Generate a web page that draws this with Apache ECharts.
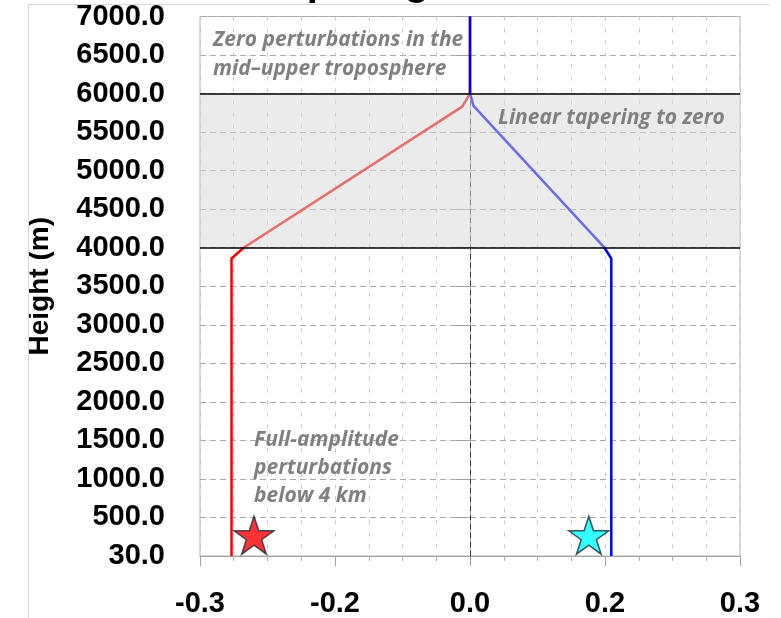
<!DOCTYPE html>
<html>
<head>
<meta charset="utf-8">
<script src="https://cdn.jsdelivr.net/npm/echarts@6/dist/echarts.min.js"></script>
<style>
  html, body { margin: 0; padding: 0; background: #fff; }
  #chart { width: 781px; height: 618px; }
</style>
</head>
<body>
<div id="chart"></div>
<script>
// tick labels as printed on the figure
var xTickLabels = ['-0.3', '-0.2', '0.0', '0.2', '0.3'];
var yTickLabels = ['30.0', '500.0', '1000.0', '1500.0', '2000.0', '2500.0', '3000.0',
  '3500.0', '4000.0', '4500.0', '5000.0', '5500.0', '6000.0', '6500.0', '7000.0'];

// negative (red) profile
var redHeights = [0, 3860, 4000, 5830, 6000, 7000];
var redValues = [-0.265, -0.265, -0.2515, -0.0087, 0, 0];

// positive (blue) profile
var blueHeights = [0, 3860, 4000, 5840, 6000, 7000];
var blueValues = [0.157, 0.157, 0.1494, 0.0039, 0, 0];

// taper layer bounds
var taperBottom = 4000;
var taperTop = 6000;

// star markers
var starX = [-0.240, 0.132];
var starY = [270, 270];
var starColors = ['#ff0000', '#00ffff'];

var starPath = 'path://M50 0 L61.23 34.55 L97.55 34.55 L68.17 55.9 L79.39 90.45 L50 69.1 L20.61 90.45 L31.83 55.9 L2.45 34.55 L38.77 34.55 Z';

function pairs(xs, ys) {
  var out = [];
  for (var i = 0; i < xs.length; i++) out.push([xs[i], ys[i]]);
  return out;
}

var myChart = echarts.init(document.getElementById('chart'));

var labelFont = '"Liberation Sans", sans-serif';
var noteStyle = {
  fill: '#808080',
  font: 'italic bold 21px "Open Sans"'
};

var option = {
  animation: false,
  grid: {
    left: 200,
    right: 41,
    top: 16.5,
    bottom: 61,
    show: true,
    borderColor: '#b5b5b5',
    borderWidth: 1
  },
  xAxis: {
    type: 'value',
    min: -0.3,
    max: 0.3,
    interval: 0.15,
    axisLine: { show: true, lineStyle: { color: '#a0a0a0', width: 1 } },
    axisTick: { show: true, length: 10, lineStyle: { color: '#a0a0a0' } },
    minorTick: { show: true, splitNumber: 4, length: 5, lineStyle: { color: '#b0b0b0' } },
    splitLine: { show: true, lineStyle: { color: '#c8c8c8', type: [4, 8] } },
    minorSplitLine: { show: true, lineStyle: { color: '#c8c8c8', type: [4, 8] } },
    axisLabel: {
      margin: 33,
      color: '#000',
      fontFamily: labelFont,
      fontWeight: 'bold',
      fontSize: 29,
      showMinLabel: true,
      showMaxLabel: true,
      formatter: function (v, i) { return xTickLabels[i]; }
    }
  },
  yAxis: {
    type: 'value',
    min: 0,
    max: 7000,
    interval: 500,
    name: 'Height (m)',
    nameLocation: 'middle',
    nameGap: 146,
    nameTextStyle: {
      color: '#000',
      fontFamily: 'Liberation Sans',
      fontWeight: 'bold',
      fontSize: 28
    },
    axisLine: { show: true, lineStyle: { color: '#a0a0a0', width: 1 } },
    axisTick: { show: true, length: 14, lineStyle: { color: '#a0a0a0' } },
    splitLine: { show: true, lineStyle: { color: '#a8a8a8', type: [6, 4] } },
    axisLabel: {
      margin: 35,
      color: '#000',
      fontFamily: labelFont,
      fontWeight: 'bold',
      fontSize: 29,
      formatter: function (v, i) { return yTickLabels[i]; }
    }
  },
  series: [
    {
      name: 'red',
      type: 'line',
      z: 2,
      data: pairs(redValues, redHeights),
      showSymbol: false,
      symbol: 'none',
      lineStyle: { color: '#ff0000', width: 2.5 },
      markLine: {
        silent: true,
        symbol: 'none',
        z: 1,
        label: { show: false },
        lineStyle: { color: '#333', type: [5, 4], width: 1 },
        data: [{ xAxis: 0 }]
      }
    },
    {
      name: 'blue',
      type: 'line',
      z: 3,
      data: pairs(blueValues, blueHeights),
      showSymbol: false,
      symbol: 'none',
      lineStyle: { color: '#0000ff', width: 2.5 }
    },
    {
      name: 'taper',
      type: 'line',
      z: 5,
      data: [],
      markArea: {
        silent: true,
        z: 6,
        itemStyle: { color: 'rgba(216,216,216,0.5)' },
        data: [[{ yAxis: taperBottom }, { yAxis: taperTop }]]
      },
      markLine: {
        silent: true,
        symbol: 'none',
        z: 7,
        label: { show: false },
        lineStyle: { color: '#000', type: 'solid', width: 1.5 },
        data: [{ yAxis: taperBottom }, { yAxis: taperTop }]
      }
    },
    {
      name: 'stars',
      type: 'scatter',
      z: 10,
      symbol: starPath,
      symbolSize: [40, 38],
      data: starX.map(function (x, i) {
        return {
          value: [x, starY[i]],
          itemStyle: { color: starColors[i], borderColor: '#1c2b3a', borderWidth: 1.5 }
        };
      })
    }
  ],
  graphic: [
    { type: 'line', shape: { x1: 28, y1: 4.5, x2: 770, y2: 4.5 }, style: { stroke: '#d8d8d8', lineWidth: 1 }, z: 1 },
    { type: 'line', shape: { x1: 28.5, y1: 4.5, x2: 28.5, y2: 618 }, style: { stroke: '#d8d8d8', lineWidth: 1 }, z: 1 },
    { type: 'text', x: 263, y: -36, style: { text: 'Tapering', fill: '#000', font: 'bold 40px "Liberation Sans"' }, z: 20 },
    { type: 'text', x: 213, y: 30, style: Object.assign({ text: 'Zero perturbations in the' }, noteStyle), z: 20 },
    { type: 'text', x: 213, y: 59, style: Object.assign({ text: 'mid\u2013upper troposphere' }, noteStyle), z: 20 },
    { type: 'text', x: 498, y: 108, style: Object.assign({ text: 'Linear tapering to zero' }, noteStyle), z: 20 },
    { type: 'text', x: 254, y: 430, style: Object.assign({ text: 'Full-amplitude' }, noteStyle), z: 20 },
    { type: 'text', x: 254, y: 458, style: Object.assign({ text: 'perturbations' }, noteStyle), z: 20 },
    { type: 'text', x: 254, y: 486, style: Object.assign({ text: 'below 4 km' }, noteStyle), z: 20 }
  ]
};

myChart.setOption(option);
</script>
</body>
</html>
